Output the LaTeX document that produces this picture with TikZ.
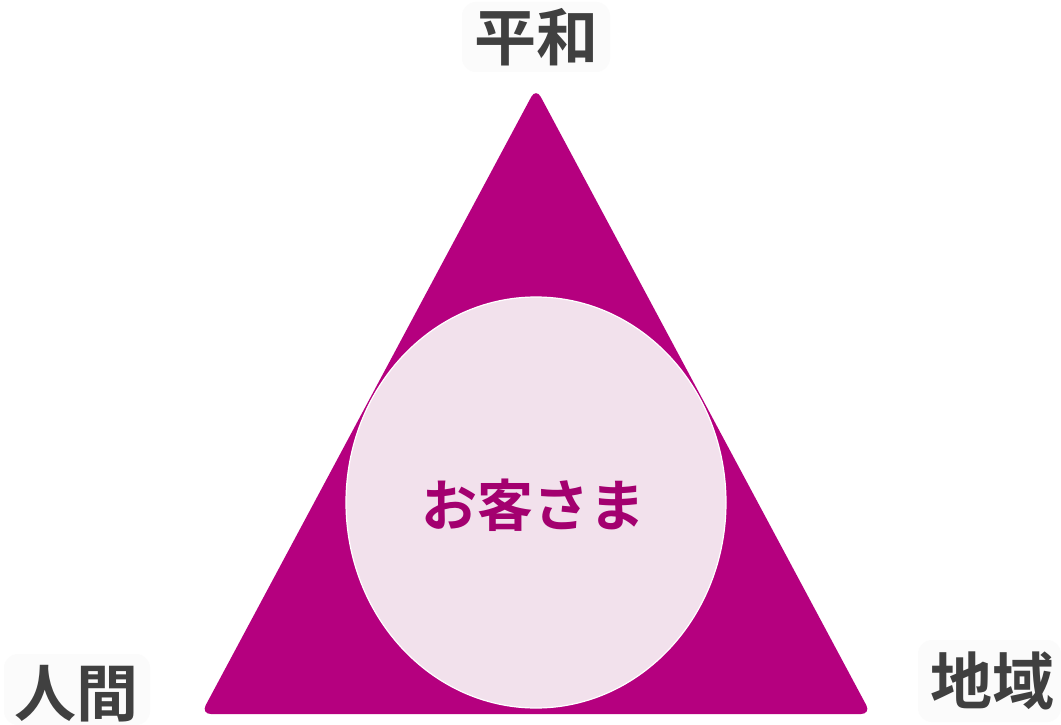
\documentclass[tikz,border=0pt]{standalone}
\usepackage{fontspec}
\usetikzlibrary{shapes.geometric}
\newfontfamily\jpfont{Noto Sans CJK JP}[BoldFont={Noto Sans CJK JP Bold}]
\definecolor{tri}{HTML}{B5007F}
\definecolor{circ}{HTML}{F2E1EC}
\definecolor{ctext}{HTML}{A3006F}
\definecolor{lbl}{HTML}{404040}
\tikzset{
  lab/.style={text=lbl, font=\jpfont\bfseries\fontsize{62}{62}\selectfont, inner sep=0pt},
  glow/.style={fill=black!1.5, rounded corners=14pt, draw=none}
}
\begin{document}
\begin{tikzpicture}[x=1pt,y=-1pt]
\useasboundingbox (0,0) rectangle (1061,725);
\fill[white] (0,0) rectangle (1061,725);
% label glow boxes
\fill[glow] (462,2) rectangle (610,72);
\fill[glow] (4,654) rectangle (150,725);
\fill[glow] (918,640) rectangle (1061,722);
% triangle
\fill[tri, rounded corners=10pt] (536,88) -- (871,714) -- (201,714) -- cycle;
% circle
\node[ellipse, fill=circ, draw=white, line width=1.2pt, minimum width=380pt, minimum height=411pt, inner sep=0pt] (c) at (536,502.5) {};
\node[text=ctext, font=\jpfont\bfseries\fontsize{56}{56}\selectfont, inner sep=0pt] (t) at (533,505) {お客さま};
\node[lab] (heiwa) at (536,37) {平和};
\node[lab] (ningen) at (77,694) {人間};
\node[lab] (chiiki) at (992,681) {地域};
\end{tikzpicture}
\end{document}
